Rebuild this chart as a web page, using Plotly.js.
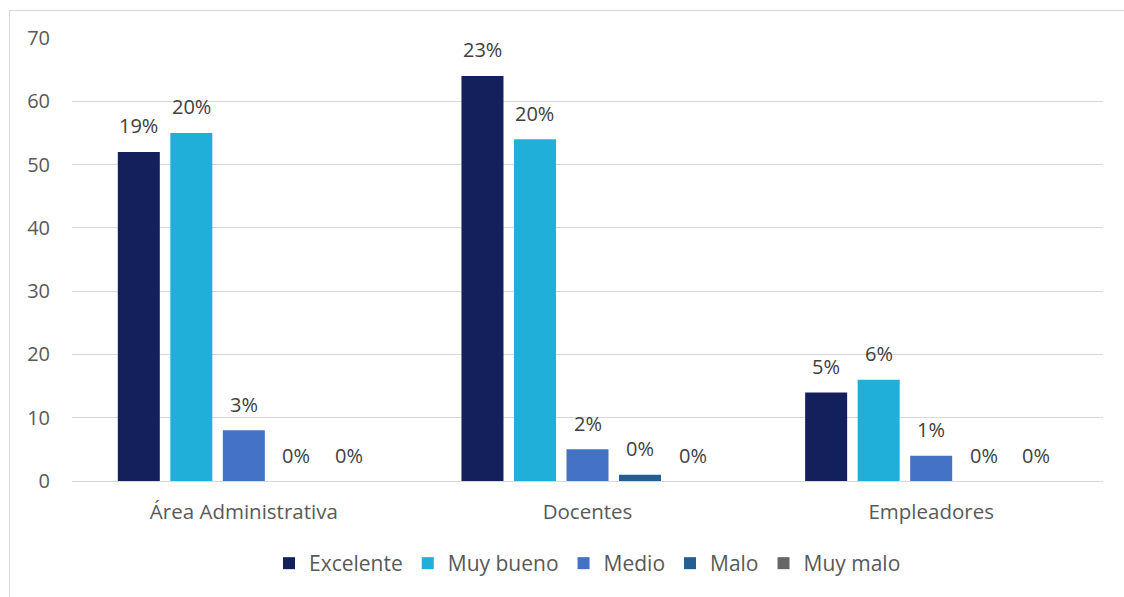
<!DOCTYPE html>
<html>
<head>
<meta charset="utf-8">
<script src="https://cdn.plot.ly/plotly-3.0.1.min.js"></script>
<style>
  html, body { margin: 0; padding: 0; background: #ffffff; }
  #wrap { position: relative; width: 1124px; height: 597px; overflow: hidden; }
  #chart { width: 1124px; height: 597px; }
  #frame { position: absolute; left: 9px; top: 10px; width: 1130px; height: 600px;
           border: 1px solid #d9d9d9; pointer-events: none; }
</style>
</head>
<body>
<div id="wrap">
  <div id="chart"></div>
  <div id="frame"></div>
</div>
<script>
const categories = ["Área Administrativa", "Docentes", "Empleadores"];
const seriesNames = ["Excelente", "Muy bueno", "Medio", "Malo", "Muy malo"];
const excelente = [52, 64, 14];
const muyBueno = [55, 54, 16];
const medio = [8, 5, 4];
const malo = [0, 1, 0];
const muyMalo = [0, 0, 0];
const excelenteLabels = ["19%", "23%", "5%"];
const muyBuenoLabels = ["20%", "20%", "6%"];
const medioLabels = ["3%", "2%", "1%"];
const maloLabels = ["0%", "0%", "0%"];
const muyMaloLabels = ["0%", "0%", "0%"];
const yTicks = [0, 10, 20, 30, 40, 50, 60, 70];

const values = [excelente, muyBueno, medio, malo, muyMalo];
const labels = [excelenteLabels, muyBuenoLabels, medioLabels, maloLabels, muyMaloLabels];
const colors = ["#14205B", "#20AFD9", "#4472C4", "#255E91", "#666666"];
const FONT = "Open Sans, Liberation Sans, sans-serif";
const BARGAP = 0.236;

const traces = seriesNames.map((name, i) => ({
  type: "bar",
  name: name,
  x: categories,
  y: values[i],
  marker: { color: colors[i] },
  hoverinfo: "x+y+name"
}));

// value labels placed over each bar of the group (category index + group slot offset)
const nSeries = seriesNames.length;
const slot = (1 - BARGAP) / nSeries;
const annotations = [];
values.forEach((vals, i) => {
  vals.forEach((v, j) => {
    annotations.push({
      xref: "x", yref: "y",
      x: j + (i - (nSeries - 1) / 2) * slot,
      y: v,
      text: labels[i][j],
      showarrow: false,
      xanchor: "center",
      yanchor: "middle",
      yshift: 26,
      font: { family: FONT, size: 20, color: "#404040" }
    });
  });
});

const layout = {
  width: 1124,
  height: 597,
  margin: { l: 72, r: 21, t: 38, b: 116 },
  paper_bgcolor: "#ffffff",
  plot_bgcolor: "#ffffff",
  barmode: "group",
  bargap: BARGAP,
  bargroupgap: 0.2,
  font: { family: FONT, size: 20, color: "#595959" },
  xaxis: {
    type: "category",
    tickfont: { family: FONT, size: 20.5, color: "#595959" },
    showline: true,
    linecolor: "#d9d9d9",
    linewidth: 1,
    ticks: "",
    ticklabelstandoff: 12
  },
  yaxis: {
    range: [0, 70],
    tickvals: yTicks,
    ticktext: yTicks.map(String),
    tickfont: { family: FONT, size: 20, color: "#595959" },
    gridcolor: "#d9d9d9",
    gridwidth: 1,
    zeroline: false,
    showline: false,
    ticks: "",
    ticklabelstandoff: 21
  },
  annotations: annotations,
  legend: {
    orientation: "h",
    x: 0.5,
    xanchor: "center",
    y: -0.14,
    yanchor: "top",
    font: { family: FONT, size: 21, color: "#595959" },
    itemwidth: 30,
    traceorder: "normal"
  },
  showlegend: true
};

Plotly.newPlot("chart", traces, layout, { displayModeBar: false, staticPlot: true });
</script>
</body>
</html>
